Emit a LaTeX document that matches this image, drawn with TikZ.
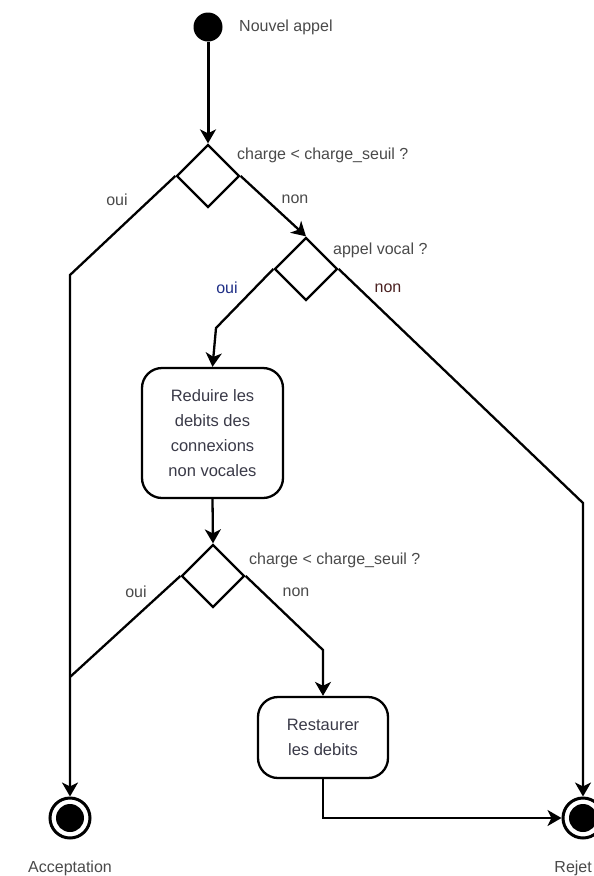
\documentclass[tikz,border=0pt]{standalone}
\usepackage{fontspec}
\setmainfont{Liberation Sans}
\usetikzlibrary{shapes.geometric,arrows.meta}
\definecolor{labelgray}{HTML}{4A4A4A}
\definecolor{boxtext}{HTML}{3A3A48}
\definecolor{ouiblue}{HTML}{1E2E86}
\definecolor{nonred}{HTML}{4A2020}
\begin{document}
\begin{tikzpicture}[x=1pt,y=-1pt,
  flow/.style={line width=2.3pt,-{Stealth[length=14pt,width=16pt,inset=4pt]}},
  plain/.style={line width=2.3pt},
  choice/.style={diamond,draw,line width=2.3pt,inner sep=0pt,minimum width=63pt,minimum height=63pt},
  activity/.style={draw,line width=2.3pt,rounded corners=20pt,align=center,text=boxtext,
    font=\fontsize{16.5}{25}\selectfont,inner sep=0pt},
  lbl/.style={text=labelgray,font=\fontsize{16}{19}\selectfont,inner sep=0pt},
  startdot/.style={circle,fill=black,minimum size=29pt,inner sep=0pt},
  enddot/.style={circle,draw,line width=3pt,minimum size=40pt,inner sep=0pt,
    path picture={\fill[black] (path picture bounding box.center) circle[radius=14pt];}}]
\useasboundingbox (0,0) rectangle (594,876);
\clip (0,0) rectangle (594,876);
\fill[white] (0,0) rectangle (594,876);

% states and decisions
\node[startdot] (start) at (208,27) {};
\node[choice] (d1) at (208,176) {};
\node[choice] (d2) at (306,269) {};
\node[activity,minimum width=141pt,minimum height=130pt] (reduce) at (212.5,433)
  {Reduire les\\debits des\\connexions\\non vocales};
\node[choice] (d3) at (213,576) {};
\node[activity,minimum width=130pt,minimum height=81pt] (restore) at (323,737.5)
  {Restaurer\\les debits};
\node[enddot] (accept) at (70,818) {};
\node[enddot] (reject) at (583,818) {};

% bends of the connectors
\coordinate (k1) at (70,275);
\coordinate (k2) at (216,328);
\coordinate (k3) at (583,503);
\coordinate (join) at (70,677);
\coordinate (k4) at (323,650);
\coordinate (k5) at (323,818);

% connectors
\draw[flow,line width=3pt] (start) -- (d1.north);
\draw[flow] (d1.east) -- (d2.north);
\draw[flow] (d1.west) -- (k1) -- (accept.north);
\draw[flow] (d2.west) -- (k2) -- (reduce.north);
\draw[flow] (d2.east) -- (k3) -- (reject.north);
\draw[flow] (reduce.south) -- (d3.north);
\draw[plain] (d3.west) -- (join);
\draw[flow] (d3.east) -- (k4) -- (restore.north);
\draw[flow] (restore.south) -- (k5) -- (reject.west);

% texts
\node[lbl,anchor=west] (tstart) at (239,27) {Nouvel appel};
\node[lbl,anchor=west] (tq1) at (237,155) {charge < charge\_seuil ?};
\node[lbl] (toui1) at (117,200) {oui};
\node[lbl] (tnon1) at (295,199) {non};
\node[lbl,anchor=west] (tq2) at (333,250) {appel vocal ?};
\node[lbl,text=ouiblue] (toui2) at (227,288) {oui};
\node[lbl,text=nonred] (tnon2) at (388,288) {non};
\node[lbl,anchor=west] (tq3) at (249,560) {charge < charge\_seuil ?};
\node[lbl] (toui3) at (136,592) {oui};
\node[lbl] (tnon3) at (296,592) {non};
\node[lbl] (tacc) at (70,868) {Acceptation};
\node[lbl,anchor=east] (trej) at (592,868) {Rejet};
\end{tikzpicture}
\end{document}
